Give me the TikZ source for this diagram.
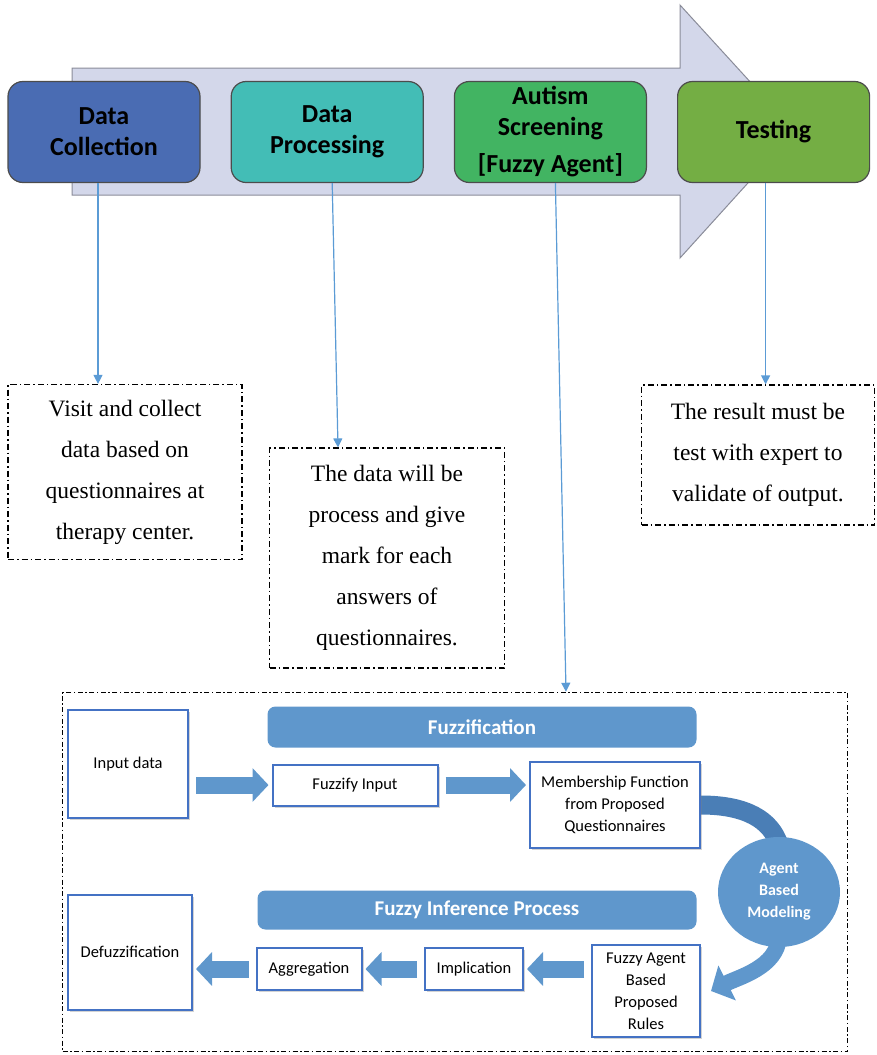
\documentclass[tikz,border=0pt]{standalone}
\usepackage{fontspec}
\setmainfont{Liberation Serif}
\newfontfamily\calibri{Carlito}
\usetikzlibrary{positioning,arrows.meta,shadows,shapes.geometric,backgrounds}

\definecolor{flowfill}{HTML}{D3D7EA}
\definecolor{flowedge}{HTML}{8A8C99}
\definecolor{collectblue}{HTML}{4A6CB3}
\definecolor{processteal}{HTML}{43BDB6}
\definecolor{screengreen}{HTML}{42B462}
\definecolor{testgreen}{HTML}{74AE44}
\definecolor{linkblue}{HTML}{5B9BD5}
\definecolor{boxblue}{HTML}{4472C4}
\definecolor{bannerblue}{HTML}{5F97CC}
\definecolor{bendblue}{HTML}{4A7EB6}

\begin{document}
\begin{tikzpicture}[
        x=1pt, y=-1pt,
        node distance=30pt,
        stage/.style={rectangle, rounded corners=15pt, draw=black!70, line width=1.2pt, minimum width=192pt, minimum height=101pt, align=center, font=\calibri\bfseries\fontsize{26}{31}\selectfont},
        note/.style={rectangle, draw, line width=1.2pt, dash pattern=on 6pt off 3pt on 1.5pt off 3pt, align=center, font=\fontsize{23.5}{41}\selectfont},
        frame/.style={rectangle, draw, line width=1.5pt, dash pattern=on 5pt off 2.5pt on 1.5pt off 2.5pt},
        fuzzybox/.style={rectangle, draw=boxblue, line width=2pt, fill=white, drop shadow={opacity=0.35, shadow xshift=2pt, shadow yshift=-2pt}, align=center, font=\calibri\fontsize{16.5}{22}\selectfont},
        banner/.style={rectangle, rounded corners=8pt, fill=bannerblue, text=white, font=\calibri\bfseries\fontsize{21}{24}\selectfont},
        link/.style={draw=linkblue, line width=1.2pt, -{Triangle[length=9pt,width=9pt]}},
        bigarrow/.style={draw=bannerblue, line width=17pt, -{Triangle[length=16pt,width=33pt]}, shorten <=7pt, shorten >=3pt}
    ]
        \useasboundingbox (0,0) rectangle (876,1055);
        \fill[flowfill, draw=flowedge, line width=1pt] (72,68) -- (680,68) -- (680,5) -- (795,131) -- (680,258) -- (680,195) -- (72,195) -- cycle;

        \node[stage, fill=collectblue] (collect) at (104,132) {Data\\Collection};
        \node[stage, fill=processteal, right=of collect] (process) {Data\\Processing};
        \node[stage, fill=screengreen, right=of process] (screen) {Autism\\Screening\\[6pt]{[Fuzzy Agent]}};
        \node[stage, fill=testgreen, right=of screen] (testing) {Testing};

        \node[note, minimum width=234pt, minimum height=175pt] (collectnote) at (125,472) {Visit and collect\\data based on\\questionnaires at\\therapy center.};
        \node[note, minimum width=235pt, minimum height=220pt] (processnote) at (387,558) {The data will be\\process and give\\mark for each\\answers of\\questionnaires.};
        \node[note, minimum width=233pt, minimum height=140pt] (testnote) at (758,455) {The result must be\\test with expert to\\validate of output.};
        \node[frame, minimum width=785pt, minimum height=359pt] (agentframe) at (455,872) {};

        \draw[link] ([xshift=-6pt]collect.south) -- ([xshift=-6pt]collect.south |- collectnote.north);
        \draw[link] ([xshift=5pt]process.south) -- ([xshift=-49pt]processnote.north);
        \draw[link] ([xshift=5pt]screen.south) -- ([xshift=111pt]agentframe.north);
        \draw[link] ([xshift=-8pt]testing.south) -- ([xshift=-8pt]testing.south |- testnote.north);

        \node[fuzzybox, minimum width=120pt, minimum height=108pt] (indata) at (128,764) {Input data};
        \node[banner, minimum width=429pt, minimum height=41pt] (fuzzification) at (482,727) {Fuzzification};
        \node[fuzzybox, minimum width=165pt, minimum height=41pt] (fuzzin) at (355,785) {Fuzzify Input};
        \node[fuzzybox, minimum width=170pt, minimum height=86pt] (memb) at (615,805) {Membership Function\\from Proposed\\Questionnaires};
        \node[ellipse, fill=bannerblue, text=white, minimum width=122pt, minimum height=110pt, inner sep=1pt, align=center, font=\calibri\bfseries\fontsize{16}{22}\selectfont] (abm) at (779,892) {Agent\\Based\\Modeling};
        \node[banner, minimum width=439pt, minimum height=39pt] (inference) at (477,910) {Fuzzy Inference Process};
        \node[fuzzybox, minimum width=124pt, minimum height=115pt] (defuzz) at (130,952) {Defuzzification};
        \node[fuzzybox, minimum width=105pt, minimum height=42pt] (aggr) at (309,969) {Aggregation};
        \node[fuzzybox, minimum width=98pt, minimum height=42pt] (impl) at (474,969) {Implication};
        \node[fuzzybox, minimum width=108pt, minimum height=92pt] (rules) at (646,991) {Fuzzy Agent\\Based\\Proposed\\Rules};

        \draw[bigarrow] (indata.east |- fuzzin.west) -- (fuzzin.west);
        \draw[bigarrow] (fuzzin.east) -- (fuzzin.east -| memb.west);
        \draw[bigarrow] (rules.west |- impl.east) -- (impl.east);
        \draw[bigarrow] (impl.west) -- (aggr.east);
        \draw[bigarrow] (aggr.west) -- (aggr.west -| defuzz.east);
        \begin{scope}[on background layer]
            \draw[bendblue, line width=19pt] (memb.east) .. controls +(45,0) and +(-8,-25) .. ([yshift=-8pt]abm.north);
            \draw[bannerblue, line width=16pt, -{Triangle[length=18pt,width=38pt]}] ([yshift=10pt]abm.south) .. controls +(-2,30) and +(28,-14) .. ([xshift=10pt]rules.east);
        \end{scope}
    \end{tikzpicture}
\end{document}
